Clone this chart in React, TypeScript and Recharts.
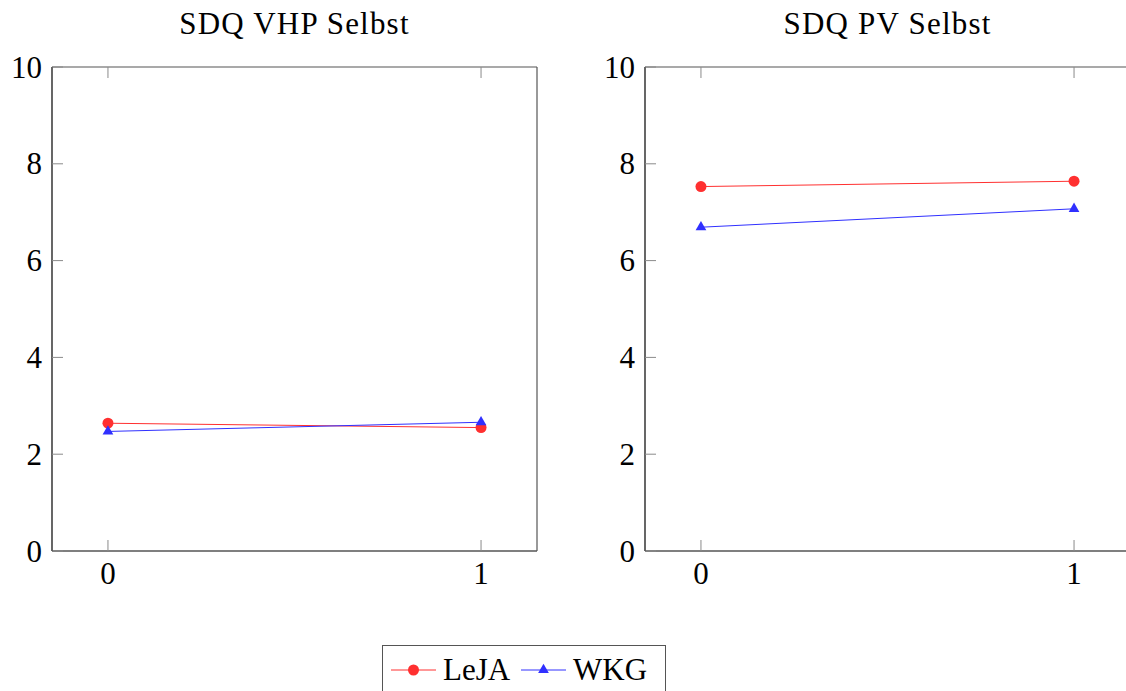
import React from 'react';
import { LineChart, Line, XAxis, YAxis } from 'recharts';

const timePoints = [0, 1];
const vhpLeJA = [2.64, 2.55];
const vhpWKG = [2.47, 2.66];
const pvLeJA = [7.53, 7.64];
const pvWKG = [6.69, 7.07];
const yTicks = [0, 2, 4, 6, 8, 10];
const xTicks = [0, 1];
const panelTitles = ['SDQ VHP Selbst', 'SDQ PV Selbst'];
const seriesNames = ['LeJA', 'WKG'];
const seriesColors = ['#ff3030', '#3030ff'];

const FONT = '"Liberation Serif", "Times New Roman", serif';
const FS = 31;
const TICK_LEN = 11;
const TICK_COLOR = '#8a8a8a';

const buildRows = (a: number[], b: number[]) =>
  timePoints.map((t, i) => ({ x: t, LeJA: a[i], WKG: b[i] }));

const panels = [
  { title: panelTitles[0], data: buildRows(vhpLeJA, vhpWKG) },
  { title: panelTitles[1], data: buildRows(pvLeJA, pvWKG) },
];

const CircleDot = (props: any) => {
  const { cx, cy, fill } = props;
  if (cx == null || cy == null) return null;
  return <circle cx={cx} cy={cy} r={5.5} fill={fill} stroke="none" />;
};

const TriDot = (props: any) => {
  const { cx, cy, fill } = props;
  if (cx == null || cy == null) return null;
  const r = 6.2;
  const w = (r * Math.sqrt(3)) / 2;
  return (
    <polygon
      points={`${cx},${cy - r} ${cx - w},${cy + r / 2} ${cx + w},${cy + r / 2}`}
      fill={fill}
      stroke="none"
    />
  );
};

const LeftTick = (props: any) => {
  const { x, y, payload } = props;
  const ax = x + 10;
  return (
    <g>
      <line x1={ax} x2={ax + TICK_LEN} y1={y} y2={y} stroke={TICK_COLOR} strokeWidth={1} />
      <text x={x} y={y} dy="0.34em" textAnchor="end" fontFamily={FONT} fontSize={FS} fill="#000">
        {payload.value}
      </text>
    </g>
  );
};

const BottomTick = (props: any) => {
  const { x, y, payload } = props;
  return (
    <g>
      <line x1={x} x2={x} y1={y} y2={y - TICK_LEN} stroke={TICK_COLOR} strokeWidth={1} />
      <text x={x} y={y + 33} textAnchor="middle" fontFamily={FONT} fontSize={FS} fill="#000">
        {payload.value}
      </text>
    </g>
  );
};

const TopTick = (props: any) => {
  const { x, y } = props;
  return <line x1={x} x2={x} y1={y} y2={y + TICK_LEN} stroke={TICK_COLOR} strokeWidth={1} />;
};

const RightTick = (props: any) => {
  const { x, y } = props;
  return <line x1={x - TICK_LEN} x2={x} y1={y} y2={y} stroke={TICK_COLOR} strokeWidth={1} />;
};

const CHART_W = 560;
const CHART_H = 611;
const MARGIN = { top: 66, right: 22, bottom: 0, left: 0 };

const Panel = ({ data }: { data: any[] }) => (
  <LineChart width={CHART_W} height={CHART_H} data={data} margin={MARGIN}>
    <XAxis
      xAxisId="b"
      dataKey="x"
      type="number"
      domain={[-0.15, 1.15]}
      ticks={xTicks}
      height={CHART_H - 551}
      tickSize={0}
      tickMargin={0}
      tickLine={false}
      stroke="#000"
      axisLine={{ stroke: '#000', strokeWidth: 1.2 }}
      tick={<BottomTick />}
      interval={0}
    />
    <XAxis
      xAxisId="t"
      orientation="top"
      dataKey="x"
      type="number"
      domain={[-0.15, 1.15]}
      ticks={xTicks}
      height={1}
      tickSize={0}
      tickMargin={0}
      tickLine={false}
      stroke="#555"
      axisLine={{ stroke: '#555', strokeWidth: 1.2 }}
      tick={<TopTick />}
      interval={0}
    />
    <YAxis
      yAxisId="l"
      domain={[0, 10]}
      ticks={yTicks}
      width={52}
      tickSize={0}
      tickMargin={10}
      tickLine={false}
      stroke="#000"
      axisLine={{ stroke: '#000', strokeWidth: 1.2 }}
      tick={<LeftTick />}
      interval={0}
    />
    <YAxis
      yAxisId="r"
      orientation="right"
      domain={[0, 10]}
      ticks={yTicks}
      width={1}
      tickSize={0}
      tickMargin={0}
      tickLine={false}
      stroke="#555"
      axisLine={{ stroke: '#555', strokeWidth: 1.2 }}
      tick={<RightTick />}
      interval={0}
    />
    <Line
      xAxisId="b"
      yAxisId="l"
      dataKey="LeJA"
      stroke={seriesColors[0]}
      strokeWidth={1}
      fill={seriesColors[0]}
      dot={<CircleDot />}
      activeDot={false}
      isAnimationActive={false}
    />
    <Line
      xAxisId="b"
      yAxisId="l"
      dataKey="WKG"
      stroke={seriesColors[1]}
      strokeWidth={1}
      fill={seriesColors[1]}
      dot={<TriDot />}
      activeDot={false}
      isAnimationActive={false}
    />
  </LineChart>
);

const panelLefts = [0, 593];
const plotLeftOffset = 52;
const plotWidth = CHART_W - 52 - MARGIN.right - 1;

export default function App() {
  return (
    <div
      style={{
        position: 'absolute',
        left: 0,
        top: 0,
        width: 1126,
        height: 691,
        overflow: 'hidden',
        background: '#fff',
      }}
    >
      {panels.map((p, i) => (
        <div key={i} style={{ position: 'absolute', left: panelLefts[i], top: 0 }}>
          <Panel data={p.data} />
        </div>
      ))}
      <svg
        width={1126}
        height={691}
        style={{ position: 'absolute', left: 0, top: 0, pointerEvents: 'none' }}
      >
        {panels.map((p, i) => (
          <text
            key={i}
            x={panelLefts[i] + plotLeftOffset + plotWidth / 2}
            y={34}
            textAnchor="middle"
            fontFamily={FONT}
            fontSize={FS}
            letterSpacing={1.2}
            fill="#000"
          >
            {p.title}
          </text>
        ))}
        <rect x={382.5} y={645.5} width={283} height={70} fill="#fff" stroke="#555" strokeWidth={1} />
        {seriesNames.map((name, i) => {
          const x0 = i === 0 ? 391 : 521;
          const cx = x0 + 22.5;
          return (
            <g key={name}>
              <line x1={x0} x2={x0 + 45} y1={670} y2={670} stroke={seriesColors[i]} strokeWidth={1} />
              {i === 0 ? (
                <CircleDot cx={cx} cy={670} fill={seriesColors[i]} />
              ) : (
                <TriDot cx={cx} cy={670} fill={seriesColors[i]} />
              )}
              <text x={x0 + 52} y={680} fontFamily={FONT} fontSize={FS} fill="#000">
                {name}
              </text>
            </g>
          );
        })}
      </svg>
    </div>
  );
}
